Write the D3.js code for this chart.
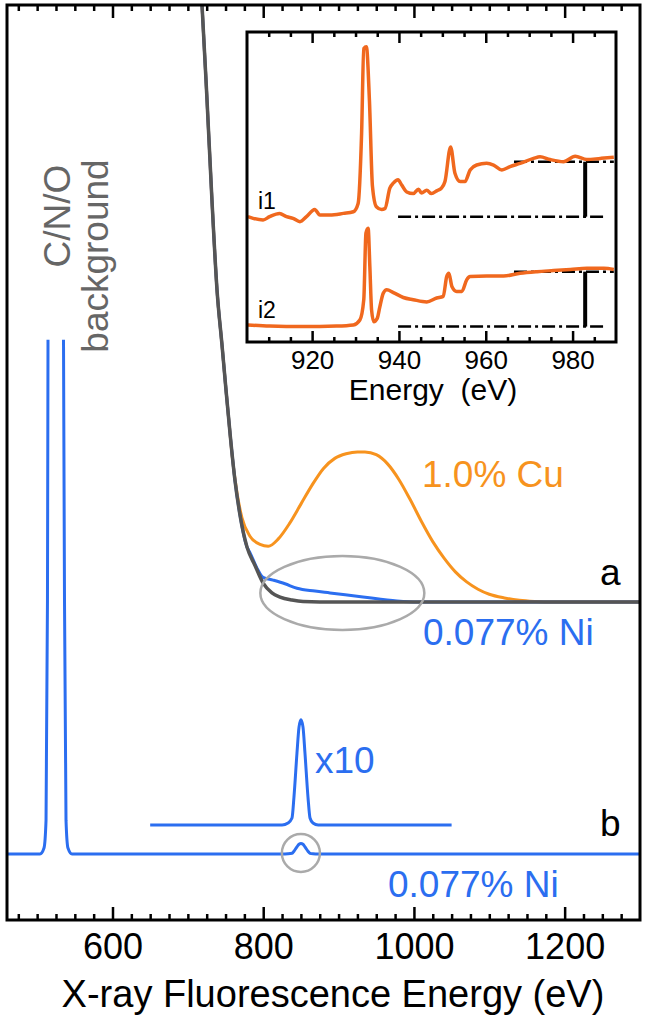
<!DOCTYPE html>
<html><head><meta charset="utf-8">
<script src="https://cdn.jsdelivr.net/npm/d3@7"></script>
<style>
body{margin:0;background:#fff}
svg{display:block}
text{font-family:"Liberation Sans",Arial,Helvetica,sans-serif}
</style>
</head><body>
<svg id="chart" width="650" height="1020"></svg>
<script>
// ---------------- DATA ----------------
// Main panel: energy (eV) vs relative intensity (arbitrary units)
const mainXTicks = [600, 800, 1000, 1200];
const mainXDomain = [460, 1300];

// trace "a": C/N/O background tail (shared steep part) [energy, intensity above baseline a]
const bgCurve = [[714.8,70.2],[718.8,65.2],[725.4,54.9],[732.0,43.9],[738.7,34.1],[745.3,28.1],
  [750.6,23.2],[755.9,18.5],[762.5,13.3],[769.2,9.5],[778.5,6.0],[789.1,4.0],[799.7,2.1],
  [811.6,1.0],[822.3,0.55],[838.2,0.22],[852.8,0.05],[875,0],[1300,0]];
// trace "a": 1.0% Cu (part that departs from the background)
const cuCurve = [[758.6,16.1],[765.1,12.0],[771.8,9.2],[782.4,7.2],[795.7,6.3],[806.7,6.1],
  [820,6.9],[835,8.6],[850,10.7],[865,12.8],[880,14.6],[895,15.7],[910,16.2],[925,16.4],
  [935,16.4],[950,16.1],[965,15.1],[980,13.4],[995,11.2],[1010,8.8],[1025,6.6],[1040,4.8],
  [1055,3.3],[1070,2.2],[1085,1.4],[1100,0.85],[1120,0.45],[1140,0.2],[1160,0.07],[1180,0],[1300,0]];
// trace "a": 0.077% Ni (part that departs from the background)
const niCurveA = [[782.4,5.4],[791.7,3.7],[799.7,2.7],[813,2.4],[828.9,2.0],[844.8,1.5],
  [868.7,1.2],[888.6,1.0],[932.4,0.55],[977.5,0.11],[1004,0],[1300,0]];

// trace "b": 0.077% Ni without background — O peak (clipped) and Ni L peak
const oPeakB = [[460,0],[503.8,0],[509.1,0.65],[511.8,3.7],[513.7,27.7],[514.4,56],[519,150],
  [525,200],[531,150],[535,56],[536.3,27.7],[538.3,3.7],[540.9,0.65],[546.3,0],[600,0]];
const niPeakB = [[825,0],[832.9,0.022],[838.2,0.077],[840.8,0.306],[844.8,0.787],[847.5,1.07],
  [850.1,1.15],[852.8,1.07],[855.4,0.787],[859.4,0.306],[862.1,0.077],[866,0.022],[873,0],[1300,0]];
const x10Range = [650, 1050];
const x10Factor = 10;

// baselines / offsets of the stacked traces
const baseA = 34.75, baseB = 7.21, baseX10 = 10.38, clipB = 56.2;

// Inset: Cu L-edge absorption, i1 and i2
const insetXTicks = [920, 940, 960, 980];
const insetXDomain = [905, 990];
const insetYDomain = [-0.28, 5.36];
const i1Offset = 2.0, i2Offset = 0;
const i1 = [[905.2,0],[906.4,-0.03],[908.7,-0.06],[910.2,0],[912.5,0.06],[914.1,0],[915.6,-0.03],
  [917.2,-0.09],[918.7,0],[920.6,0.13],[921.8,0.03],[924.1,0.03],[927.2,0.06],[929.5,0.09],
  [930.6,0.24],[931.4,1.52],[931.9,3.06],[932.5,3.09],[933.2,2.12],[933.9,0.55],[934.8,0.18],
  [936,0.13],[936.8,0.15],[937.9,0.52],[938.7,0.61],[939.8,0.67],[940.6,0.58],[941.8,0.45],
  [943.3,0.42],[944.5,0.50],[945.2,0.43],[946.4,0.48],[947.5,0.42],[948.7,0.47],[949.8,0.52],
  [950.6,0.64],[951.9,1.27],[952.9,0.79],[954.1,0.64],[955.2,0.64],[956.4,0.85],[957.9,0.94],
  [960.2,0.97],[961.8,0.94],[963.7,0.85],[965.6,0.91],[967.9,0.97],[971,1.06],[972.5,1.09],
  [974.8,1.04],[977.9,1.0],[980.6,1.1],[983.3,1.04],[986.4,1.06],[989.5,1.08]];
const i2 = [[905.2,0.03],[910.2,0.01],[917.9,0],[925.6,0.01],[929.5,0.03],[931,0.12],[931.9,0.49],
  [932.4,1.70],[932.9,1.79],[933.3,1.09],[933.7,0.30],[934.2,0.09],[935,0.15],[935.6,0.36],
  [936.4,0.61],[937.2,0.67],[938.7,0.62],[941,0.53],[943.3,0.49],[946.4,0.45],[948.7,0.52],
  [950.2,0.55],[951,0.91],[951.5,0.97],[952.2,0.73],[953.3,0.64],[954.5,0.64],[955.6,0.85],
  [956.4,0.91],[960.2,0.92],[964.1,0.92],[967.9,0.97],[971.8,1.0],[975.6,1.02],[979.5,1.04],
  [983.3,1.06],[987.2,1.06],[989.5,1.04]];
const edgePre = [939.8, 987.9];   // dash-dot pre-edge level span
const edgePost = [966.5, 989.5];  // dash-dot post-edge level span
const edgeBarE = 982.9;

// ---------------- DRAWING ----------------
const svg = d3.select("#chart");
const M = {left: 7, right: 640, top: 5, bottom: 920};
const x = d3.scaleLinear().domain(mainXDomain).range([M.left, M.right]);
const y = d3.scaleLinear().domain([0, 100]).range([M.bottom, M.top]);

const colBlue = "#2b6ef0", colOrange = "#f7931e", colGray = "#555555", colInset = "#f0681e";

const defs = svg.append("defs");
defs.append("clipPath").attr("id","plotClip").append("rect")
  .attr("x", M.left).attr("y", M.top).attr("width", M.right-M.left).attr("height", M.bottom-M.top);
defs.append("clipPath").attr("id","bClip").append("rect")
  .attr("x", M.left).attr("y", y(baseB+clipB)).attr("width", M.right-M.left)
  .attr("height", M.bottom - y(baseB+clipB));

const line = (off, k=1) => d3.line().x(d=>x(d[0])).y(d=>y(off + k*d[1])).curve(d3.curveMonotoneX);

const g = svg.append("g").attr("clip-path","url(#plotClip)");

// trace a composition
const cuStart = cuCurve[0][0], niStart = niCurveA[0][0];
const cuFull = bgCurve.filter(d=>d[0] < cuStart).concat(cuCurve);
const niFull = bgCurve.filter(d=>d[0] < niStart).concat(niCurveA);

g.append("path").datum(cuFull).attr("d", line(baseA)).attr("fill","none")
  .attr("stroke", colOrange).attr("stroke-width", 3);
g.append("path").datum(niFull).attr("d", line(baseA)).attr("fill","none")
  .attr("stroke", colBlue).attr("stroke-width", 3);
g.append("path").datum(bgCurve).attr("d", line(baseA)).attr("fill","none")
  .attr("stroke", colGray).attr("stroke-width", 3.5);

// trace b
const bFull = oPeakB.concat(niPeakB.filter(d=>d[0] > oPeakB[oPeakB.length-1][0]));
g.append("g").attr("clip-path","url(#bClip)").append("path").datum(bFull)
  .attr("d", line(baseB)).attr("fill","none").attr("stroke", colBlue).attr("stroke-width", 3);
// x10 trace
const x10Data = [[x10Range[0],0]].concat(niPeakB.filter(d=>d[0]>x10Range[0] && d[0]<x10Range[1])).concat([[x10Range[1],0]]);
g.append("path").datum(x10Data).attr("d", line(baseX10, x10Factor)).attr("fill","none")
  .attr("stroke", colBlue).attr("stroke-width", 3);

// highlight ellipse and circle
svg.append("ellipse").attr("cx", x(905)).attr("cy", y(baseA) - 9).attr("rx", 82).attr("ry", 37)
  .attr("fill","none").attr("stroke","#aaaaaa").attr("stroke-width", 2.5);
svg.append("circle").attr("cx", x(850)).attr("cy", y(baseB) - 1).attr("r", 19)
  .attr("fill","none").attr("stroke","#aaaaaa").attr("stroke-width", 2.5);

// frame and ticks
svg.append("rect").attr("x", M.left).attr("y", M.top).attr("width", M.right-M.left)
  .attr("height", M.bottom-M.top).attr("fill","none").attr("stroke","#000").attr("stroke-width", 3);

const minor = d3.range(475, 1300, 25).filter(v => !mainXTicks.includes(v));
const axB = d3.axisBottom(x).tickValues(mainXTicks).tickSize(-13).tickPadding(8).tickFormat(d3.format("d"));
const axBm = d3.axisBottom(x).tickValues(minor).tickSize(-6).tickFormat("");
const axT = d3.axisTop(x).tickValues(mainXTicks).tickSize(-13).tickFormat("");
const axTm = d3.axisTop(x).tickValues(minor).tickSize(-6).tickFormat("");
function styleAxis(sel){ sel.select(".domain").remove(); sel.selectAll(".tick line").attr("stroke","#000").attr("stroke-width",2.5); }
svg.append("g").attr("transform",`translate(0,${M.bottom})`).call(axB).call(styleAxis)
  .selectAll("text").attr("font-size", 36).attr("fill","#000").attr("dy","0.85em");
svg.append("g").attr("transform",`translate(0,${M.bottom})`).call(axBm).call(styleAxis);
svg.append("g").attr("transform",`translate(0,${M.top})`).call(axT).call(styleAxis);
svg.append("g").attr("transform",`translate(0,${M.top})`).call(axTm).call(styleAxis);

svg.append("text").attr("x", 333).attr("y", 1007).attr("text-anchor","middle")
  .attr("font-size", 38).attr("fill","#000").text("X-ray Fluorescence Energy (eV)");

// labels
svg.append("text").attr("transform","translate(70,216) rotate(-90)").attr("text-anchor","middle")
  .attr("font-size",37).attr("fill","#666").text("C/N/O");
svg.append("text").attr("transform","translate(108,256) rotate(-90)").attr("text-anchor","middle")
  .attr("font-size",37).attr("fill","#666").text("background");
svg.append("text").attr("x",422).attr("y",487).attr("font-size",37).attr("fill",colOrange).text("1.0% Cu");
svg.append("text").attr("x",600).attr("y",585).attr("font-size",37).attr("fill","#000").text("a");
svg.append("text").attr("x",423).attr("y",645).attr("font-size",37).attr("fill",colBlue).text("0.077% Ni");
svg.append("text").attr("x",315).attr("y",773).attr("font-size",37).attr("fill",colBlue).text("x10");
svg.append("text").attr("x",600).attr("y",836).attr("font-size",37).attr("fill","#000").text("b");
svg.append("text").attr("x",388).attr("y",897).attr("font-size",37).attr("fill",colBlue).text("0.077% Ni");

// ---------------- INSET ----------------
const I = {left: 247, right: 616, top: 32, bottom: 342};
const xi = d3.scaleLinear().domain(insetXDomain).range([I.left, I.right]);
const yi = d3.scaleLinear().domain(insetYDomain).range([I.bottom, I.top]);
svg.append("rect").attr("x", I.left).attr("y", I.top).attr("width", I.right-I.left)
  .attr("height", I.bottom-I.top).attr("fill","#fff");
defs.append("clipPath").attr("id","insetClip").append("rect")
  .attr("x", I.left).attr("y", I.top).attr("width", I.right-I.left).attr("height", I.bottom-I.top);
const gi = svg.append("g").attr("clip-path","url(#insetClip)");
const lineI = off => d3.line().x(d=>xi(d[0])).y(d=>yi(off+d[1])).curve(d3.curveMonotoneX);

[[i1Offset],[i2Offset]].forEach(([off])=>{
  // dash-dot edge-step guides
  gi.append("line").attr("x1", xi(edgePre[0])).attr("x2", xi(edgePre[1]))
    .attr("y1", yi(off)).attr("y2", yi(off)).attr("stroke","#000").attr("stroke-width",2.5)
    .attr("stroke-dasharray","13,4,3,4");
  gi.append("line").attr("x1", xi(edgePost[0])).attr("x2", xi(edgePost[1]))
    .attr("y1", yi(off+1)).attr("y2", yi(off+1)).attr("stroke","#000").attr("stroke-width",2.5)
    .attr("stroke-dasharray","13,4,3,4");
  gi.append("line").attr("x1", xi(edgeBarE)).attr("x2", xi(edgeBarE))
    .attr("y1", yi(off)).attr("y2", yi(off+1)).attr("stroke","#000").attr("stroke-width",4);
});
gi.append("path").datum(i1).attr("d", lineI(i1Offset)).attr("fill","none")
  .attr("stroke", colInset).attr("stroke-width", 3.5).attr("stroke-linejoin","round");
gi.append("path").datum(i2).attr("d", lineI(i2Offset)).attr("fill","none")
  .attr("stroke", colInset).attr("stroke-width", 3.5).attr("stroke-linejoin","round");

svg.append("rect").attr("x", I.left).attr("y", I.top).attr("width", I.right-I.left)
  .attr("height", I.bottom-I.top).attr("fill","none").attr("stroke","#000").attr("stroke-width",3);
const iminor = d3.range(910, 990, 5).filter(v => !insetXTicks.includes(v));
svg.append("g").attr("transform",`translate(0,${I.bottom})`)
  .call(d3.axisBottom(xi).tickValues(insetXTicks).tickSize(-11).tickPadding(6))
  .call(styleAxis).selectAll("text").attr("font-size",26).attr("fill","#000").attr("dy","0.8em");
svg.append("g").attr("transform",`translate(0,${I.bottom})`)
  .call(d3.axisBottom(xi).tickValues(iminor).tickSize(-5).tickFormat("")).call(styleAxis);
svg.append("g").attr("transform",`translate(0,${I.top})`)
  .call(d3.axisTop(xi).tickValues(insetXTicks).tickSize(-11).tickFormat("")).call(styleAxis);
svg.append("g").attr("transform",`translate(0,${I.top})`)
  .call(d3.axisTop(xi).tickValues(iminor).tickSize(-5).tickFormat("")).call(styleAxis);
svg.append("text").attr("x", 433).attr("y", 400).attr("text-anchor","middle")
  .attr("font-size",30).attr("fill","#000").style("white-space","pre").text("Energy  (eV)");
svg.append("text").attr("x",258).attr("y",209).attr("font-size",23).attr("fill","#000").text("i1");
svg.append("text").attr("x",258).attr("y",318).attr("font-size",23).attr("fill","#000").text("i2");
</script>
</body></html>
